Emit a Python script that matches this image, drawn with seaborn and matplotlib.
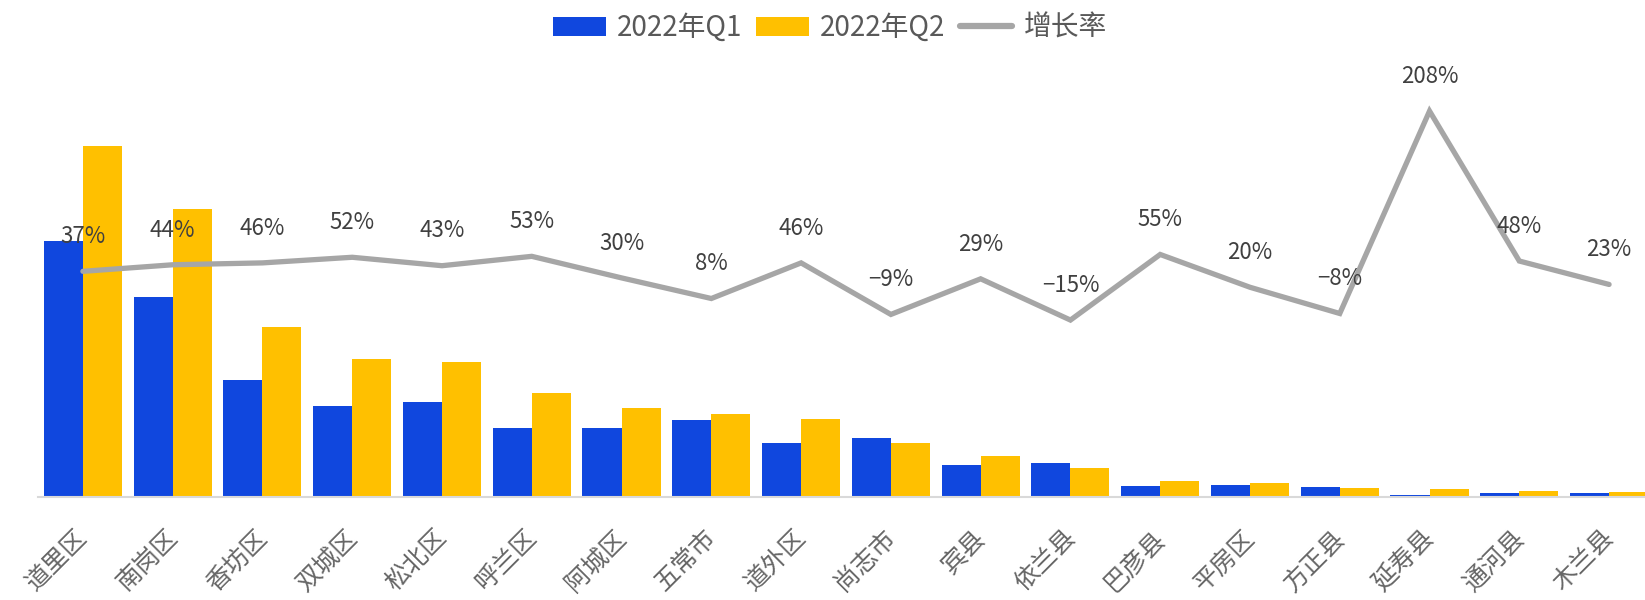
import numpy as np
import pandas as pd
import matplotlib
matplotlib.use("Agg")
import matplotlib.pyplot as plt
import matplotlib.transforms as mtransforms
import seaborn as sns
from matplotlib.patches import Patch
from matplotlib.lines import Line2D

districts = ["道里区", "南岗区", "香坊区", "双城区", "松北区", "呼兰区", "阿城区", "五常市", "道外区",
             "尚志市", "宾县", "依兰县", "巴彦县", "平房区", "方正县", "延寿县", "通河县", "木兰县"]
q1_values = [256, 200, 117, 91, 95, 69, 69, 77, 54, 59, 32, 34, 11, 12, 10, 2, 4, 4]
q2_values = [351, 288, 170, 138, 135, 104, 89, 83, 78, 54, 41, 29, 16, 14, 9, 8, 6, 5]
growth_pct = [37, 44, 46, 52, 43, 53, 30, 8, 46, -9, 29, -15, 55, 20, -8, 208, 48, 23]
series_names = ["2022年Q1", "2022年Q2"]
line_name = "增长率"

BLUE = "#1047DE"
YELLOW = "#FFC000"
GRAY = "#A6A6A6"

sns.set_theme(style="white")
plt.rcParams["font.family"] = ["Noto Sans CJK SC", "DejaVu Sans"]
plt.rcParams["axes.unicode_minus"] = True

df = pd.DataFrame({
    "区县": districts * 2,
    "值": q1_values + q2_values,
    "季度": [series_names[0]] * len(districts) + [series_names[1]] * len(districts),
})

fig = plt.figure(figsize=(16.45, 6.0), dpi=100)
ax = fig.add_axes([38 / 1645, 1 - 497 / 600, 1 - 38 / 1645, (497 - 60) / 600])

sns.barplot(data=df, x="区县", y="值", hue="季度", order=districts, hue_order=series_names,
            palette=[BLUE, YELLOW], width=0.87, gap=0, saturation=1, ax=ax, legend=False,
            edgecolor="none", linewidth=0)
ax.set_ylim(0, 437)
ax.set_xlim(-0.5, 17.4)
ax.set_xlabel("")
ax.set_ylabel("")
ax.set_yticks([])
for s in ["top", "right", "left"]:
    ax.spines[s].set_visible(False)
ax.spines["bottom"].set_color("#D9D9D9")
ax.spines["bottom"].set_linewidth(1.5)
ax.tick_params(axis="x", length=0, pad=20)
offset = mtransforms.ScaledTranslation(-8 / 100, 0, fig.dpi_scale_trans)
for lbl in ax.get_xticklabels():
    lbl.set_rotation(45)
    lbl.set_ha("right")
    lbl.set_va("top")
    lbl.set_rotation_mode("anchor")
    lbl.set_fontsize(18)
    lbl.set_fontweight("light")
    lbl.set_color("#666666")
    lbl.set_transform(lbl.get_transform() + offset)

ax2 = ax.twinx()
rates = np.array(growth_pct) / 100.0
sns.lineplot(x=np.arange(len(districts)), y=rates, ax=ax2, color=GRAY, linewidth=3.8,
             solid_joinstyle="miter", legend=False)
ax2.set_ylim(-2.038, 2.625)
ax2.set_xlim(-0.5, 17.4)
ax2.set_yticks([])
ax2.set_ylabel("")
for s in ["top", "right", "left", "bottom"]:
    ax2.spines[s].set_visible(False)

for i, r in enumerate(growth_pct):
    txt = f"{r}%" if r >= 0 else f"\u2212{abs(r)}%"
    ax2.annotate(txt, (i, r / 100.0), xytext=(0, 25), textcoords="offset points",
                 ha="center", va="center", fontsize=16, color="#404040")

handles = [Patch(facecolor=BLUE, edgecolor="none"),
           Patch(facecolor=YELLOW, edgecolor="none"),
           Line2D([0], [0], color=GRAY, linewidth=4.5)]
leg = fig.legend(handles, series_names + [line_name], loc="center", bbox_to_anchor=(830 / 1645, 1 - 28 / 600),
                 ncol=3, frameon=False, fontsize=20, handlelength=1.9, handleheight=0.7,
                 handletextpad=0.4, columnspacing=0.5, labelcolor="#595959")
for t in leg.get_texts():
    t.set_fontweight("light")

fig.savefig("out.png", dpi=100)
